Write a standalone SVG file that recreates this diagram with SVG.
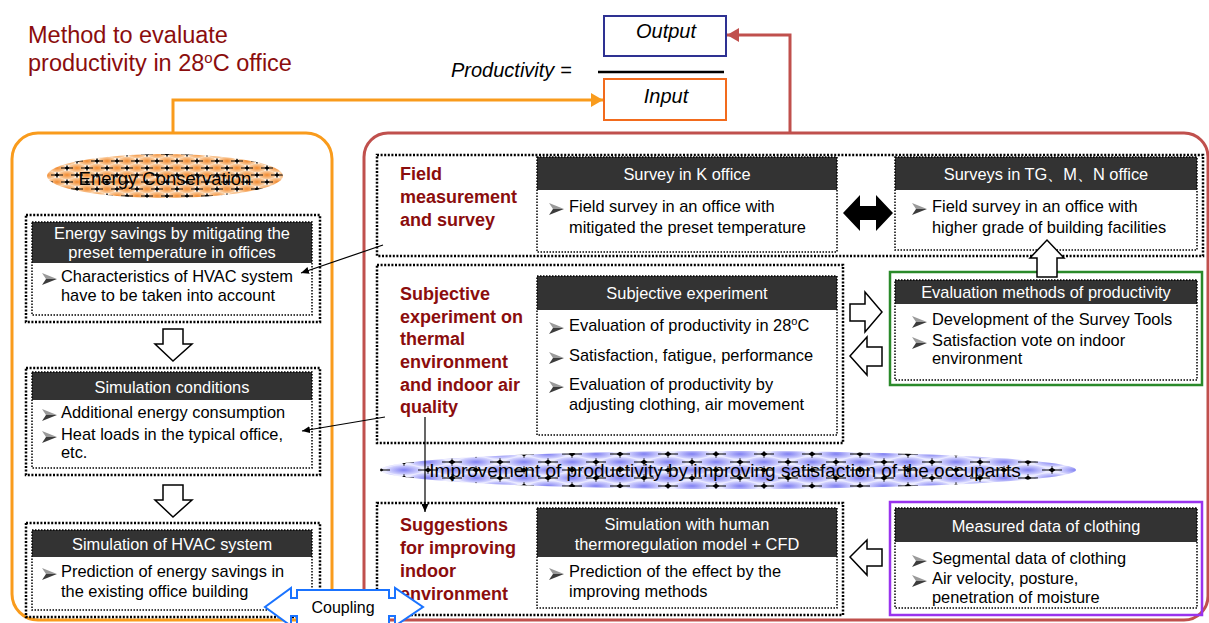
<svg xmlns="http://www.w3.org/2000/svg" xmlns:xlink="http://www.w3.org/1999/xlink" width="1209" height="623" viewBox="0 0 1209 623">
<style>
.hdr{fill:#333}
.dot-o{fill:none;stroke:#000;stroke-width:2.5;stroke-dasharray:2 1.6}
.dot-i{fill:none;stroke:#000;stroke-width:1.5;stroke-dasharray:1.5 1.5}
.ht{font-family:"Liberation Sans",Arial,sans-serif;font-size:16.4px;fill:#fff;text-anchor:middle}
.bt{font-family:"Liberation Sans",Arial,sans-serif;font-size:16.4px;fill:#000}
.lbl{font-family:"Liberation Sans",Arial,sans-serif;font-size:18px;font-weight:bold;fill:#8b0d0d}
.ttl{font-family:"Liberation Sans",Arial,sans-serif;font-size:23.5px;fill:#8b0d0d}
.it{font-family:"Liberation Sans",Arial,sans-serif;font-size:20px;font-style:italic;fill:#000}
.ell{font-family:"Liberation Sans",Arial,sans-serif;fill:#000;text-anchor:middle}
.hol{fill:#fff;stroke:#000;stroke-width:1.5}
.thin{fill:none;stroke:#000;stroke-width:1.2}
</style>
<defs>
<symbol id="blt" viewBox="0 0 15 12"><path d="M0,0 L15,6 L4,6 Z" fill="#9a9a9a"/><path d="M4,6 L15,6 L0,12 Z" fill="#3c3c3c"/></symbol>
<radialGradient id="gO"><stop offset="0" stop-color="#f28a2e"/><stop offset="1" stop-color="#fbd6b0"/></radialGradient>
<radialGradient id="gB"><stop offset="0" stop-color="#8080f2"/><stop offset="1" stop-color="#dcdcff"/></radialGradient>
<g id="starS"><path d="M-6,0 H6" stroke="#000" stroke-width="1"/><path d="M0,-3 V3" stroke="#000" stroke-width="0.7"/><path d="M-2.5,0 L0,-2 L2.5,0 L0,2 Z" fill="#000"/></g>
<g id="starL"><path d="M-10,0 H10" stroke="#000" stroke-width="1"/><path d="M0,-4 V4" stroke="#000" stroke-width="0.7"/><path d="M-3.5,0 L0,-2.5 L3.5,0 L0,2.5 Z" fill="#000"/></g>
<pattern id="pO" width="20" height="14" patternUnits="userSpaceOnUse" x="47" y="154">
<rect width="20" height="14" fill="#fff"/>
<ellipse cx="10" cy="0" rx="9" ry="4.5" fill="url(#gO)"/><ellipse cx="0" cy="7" rx="9" ry="4.5" fill="url(#gO)"/><ellipse cx="20" cy="7" rx="9" ry="4.5" fill="url(#gO)"/><ellipse cx="10" cy="14" rx="9" ry="4.5" fill="url(#gO)"/>
<use href="#starS" x="0" y="0"/><use href="#starS" x="20" y="0"/><use href="#starS" x="10" y="7"/><use href="#starS" x="0" y="14"/><use href="#starS" x="20" y="14"/>
</pattern>
<pattern id="pB" width="48" height="16" patternUnits="userSpaceOnUse" x="380" y="454">
<rect width="48" height="16" fill="#ececff"/>
<ellipse cx="24" cy="0" rx="18" ry="5" fill="url(#gB)"/><ellipse cx="0" cy="8" rx="18" ry="5" fill="url(#gB)"/><ellipse cx="48" cy="8" rx="18" ry="5" fill="url(#gB)"/><ellipse cx="24" cy="16" rx="18" ry="5" fill="url(#gB)"/>
<use href="#starL" x="0" y="0"/><use href="#starL" x="48" y="0"/><use href="#starL" x="24" y="8"/><use href="#starL" x="0" y="16"/><use href="#starL" x="48" y="16"/>
</pattern>
<marker id="mO" markerWidth="12" markerHeight="14" refX="12" refY="7" orient="auto" markerUnits="userSpaceOnUse"><path d="M0,0 L12,7 L0,14 Z" fill="#f99b1c"/></marker>
<marker id="mR" markerWidth="12" markerHeight="14" refX="12" refY="7" orient="auto" markerUnits="userSpaceOnUse"><path d="M0,0 L12,7 L0,14 Z" fill="#c0504d"/></marker>
<marker id="mK" markerWidth="8" markerHeight="7" refX="8" refY="3.5" orient="auto" markerUnits="userSpaceOnUse"><path d="M0,0 L8,3.5 L0,7 Z" fill="#000"/></marker>
</defs>
<rect width="1209" height="623" fill="#fff"/>

<g id="title">
<text class="ttl" x="28" y="43">Method to evaluate</text>
<text class="ttl" x="28" y="71">productivity in 28<tspan font-size="15" dy="-8">o</tspan><tspan dy="8">C office</tspan></text>
</g>

<g id="formula">
<text class="it" x="451" y="77">Productivity =</text>
<line x1="598" y1="72" x2="724" y2="72" stroke="#000" stroke-width="2.5"/>
</g>
<g id="n-output">
<rect x="604" y="16" width="122" height="40" fill="#fff" stroke="#2e3192" stroke-width="2"/>
<text class="it" x="666" y="38" text-anchor="middle">Output</text>
</g>
<g id="n-input">
<rect x="604" y="79" width="122" height="41" fill="#fff" stroke="#f26b1d" stroke-width="2"/>
<text class="it" x="666" y="103" text-anchor="middle">Input</text>
</g>

<g id="n-left-panel">
<rect x="12" y="133" width="320" height="487" rx="26" fill="none" stroke="#f99b1c" stroke-width="3"/>
</g>
<g id="n-right-panel">
<rect x="364" y="133" width="844" height="487" rx="24" fill="none" stroke="#c0504d" stroke-width="3"/>
</g>

<g id="n-energy-conservation">
<ellipse cx="165" cy="176" rx="118" ry="22" fill="url(#pO)"/>
<text class="ell" x="165" y="185" font-size="18.5">Energy Conservation</text>
</g>

<g id="n-energy-savings">
<rect class="dot-o" x="26" y="215" width="294" height="107"/>
<rect class="hdr" x="32" y="222" width="280" height="41"/>
<rect class="dot-i" x="32" y="222" width="280" height="93"/>
<text class="ht" x="172" y="239">Energy savings by mitigating the</text>
<text class="ht" x="172" y="258">preset temperature in offices</text>
<use href="#blt" x="42" y="273" width="15" height="12"/>
<text class="bt" x="61" y="282">Characteristics of HVAC system</text>
<text class="bt" x="61" y="301">have to be taken into account</text>
</g>

<g id="n-sim-conditions">
<rect class="dot-o" x="26" y="368" width="294" height="107"/>
<rect class="hdr" x="32" y="372" width="280" height="28"/>
<rect class="dot-i" x="32" y="372" width="280" height="96"/>
<text class="ht" x="172" y="393">Simulation conditions</text>
<use href="#blt" x="42" y="409" width="15" height="12"/>
<text class="bt" x="61" y="418">Additional energy consumption</text>
<use href="#blt" x="42" y="431" width="15" height="12"/>
<text class="bt" x="61" y="440">Heat loads in the typical office,</text>
<text class="bt" x="61" y="458">etc.</text>
</g>

<g id="n-sim-hvac">
<rect class="dot-o" x="26" y="523" width="294" height="94"/>
<rect class="hdr" x="32" y="530" width="280" height="27"/>
<rect class="dot-i" x="32" y="530" width="280" height="80"/>
<text class="ht" x="172" y="550">Simulation of HVAC system</text>
<use href="#blt" x="42" y="568" width="15" height="12"/>
<text class="bt" x="61" y="577">Prediction of energy savings in</text>
<text class="bt" x="61" y="597">the existing office building</text>
</g>

<g id="n-field">
<rect class="dot-o" x="377" y="155" width="826" height="101"/>
<text class="lbl" x="400" y="180">Field</text>
<text class="lbl" x="400" y="203">measurement</text>
<text class="lbl" x="400" y="226">and survey</text>
</g>
<g id="n-k-office">
<rect class="hdr" x="537" y="157" width="300" height="33"/>
<rect class="dot-i" x="537" y="157" width="300" height="95"/>
<text class="ht" x="687" y="180">Survey in K office</text>
<use href="#blt" x="549" y="203" width="15" height="12"/>
<text class="bt" x="569" y="212">Field survey in an office with</text>
<text class="bt" x="569" y="233">mitigated the preset temperature</text>
</g>
<g id="n-tg-office">
<rect class="hdr" x="895" y="157" width="302" height="33"/>
<rect class="dot-i" x="895" y="157" width="302" height="93"/>
<text class="ht" x="1046" y="180">Surveys in TG、M、N office</text>
<use href="#blt" x="912" y="203" width="15" height="12"/>
<text class="bt" x="932" y="212">Field survey in an office with</text>
<text class="bt" x="932" y="233">higher grade of building facilities</text>
</g>

<g id="n-subjective">
<rect class="dot-o" x="377" y="265" width="466" height="178"/>
<text class="lbl" x="400" y="300">Subjective</text>
<text class="lbl" x="400" y="323">experiment on</text>
<text class="lbl" x="400" y="345">thermal</text>
<text class="lbl" x="400" y="368">environment</text>
<text class="lbl" x="400" y="391">and indoor air</text>
<text class="lbl" x="400" y="413">quality</text>
</g>
<g id="n-subj-exp">
<rect class="hdr" x="537" y="276" width="300" height="34"/>
<rect class="dot-i" x="537" y="276" width="300" height="159"/>
<text class="ht" x="687" y="299">Subjective experiment</text>
<use href="#blt" x="549" y="322" width="15" height="12"/>
<text class="bt" x="569" y="331">Evaluation of productivity in 28<tspan font-size="11" dy="-6">o</tspan><tspan dy="6">C</tspan></text>
<use href="#blt" x="549" y="352" width="15" height="12"/>
<text class="bt" x="569" y="361">Satisfaction, fatigue, performance</text>
<use href="#blt" x="549" y="381" width="15" height="12"/>
<text class="bt" x="569" y="390">Evaluation of productivity by</text>
<text class="bt" x="569" y="410">adjusting clothing, air movement</text>
</g>

<g id="n-eval-methods">
<rect x="890" y="272" width="312" height="113" fill="none" stroke="#2a8a2a" stroke-width="2.5"/>
<rect class="hdr" x="895" y="280" width="302" height="24"/>
<rect class="dot-i" x="895" y="280" width="302" height="100"/>
<text class="ht" x="1046" y="298">Evaluation methods of productivity</text>
<use href="#blt" x="912" y="316" width="15" height="12"/>
<text class="bt" x="932" y="325">Development of the Survey Tools</text>
<use href="#blt" x="912" y="337" width="15" height="12"/>
<text class="bt" x="932" y="346">Satisfaction vote on indoor</text>
<text class="bt" x="932" y="364">environment</text>
</g>

<g id="n-improvement">
<ellipse cx="728" cy="470" rx="348" ry="19" fill="url(#pB)"/>
<text class="ell" x="725" y="477" font-size="19">Improvement of productivity by improving satisfaction of the occupants</text>
</g>

<g id="n-suggestions">
<rect class="dot-o" x="377" y="503" width="466" height="112"/>
<text class="lbl" x="400" y="531">Suggestions</text>
<text class="lbl" x="400" y="554">for improving</text>
<text class="lbl" x="400" y="577">indoor</text>
<text class="lbl" x="400" y="600">environment</text>
</g>
<g id="n-sim-human">
<rect class="hdr" x="537" y="508" width="300" height="49"/>
<rect class="dot-i" x="537" y="508" width="300" height="100"/>
<text class="ht" x="687" y="530">Simulation with human</text>
<text class="ht" x="687" y="550">thermoregulation model + CFD</text>
<use href="#blt" x="549" y="568" width="15" height="12"/>
<text class="bt" x="569" y="577">Prediction of the effect by the</text>
<text class="bt" x="569" y="597">improving methods</text>
</g>

<g id="n-clothing">
<rect x="890" y="502" width="312" height="113" fill="none" stroke="#9933ee" stroke-width="2.5"/>
<rect class="hdr" x="895" y="508" width="302" height="34"/>
<rect class="dot-i" x="895" y="508" width="302" height="100"/>
<text class="ht" x="1046" y="532">Measured data of clothing</text>
<use href="#blt" x="912" y="555" width="15" height="12"/>
<text class="bt" x="932" y="564">Segmental data of clothing</text>
<use href="#blt" x="912" y="575" width="15" height="12"/>
<text class="bt" x="932" y="584">Air velocity, posture,</text>
<text class="bt" x="932" y="603">penetration of moisture</text>
</g>

<g id="connectors">
<path d="M173,132 V100 H603" fill="none" stroke="#f99b1c" stroke-width="3" marker-end="url(#mO)"/>
<path d="M790,132 V35 H727" fill="none" stroke="#c0504d" stroke-width="3" marker-end="url(#mR)"/>
<path class="thin" d="M383,245 L301,273" marker-end="url(#mK)"/>
<path class="thin" d="M385,417 L302,431" marker-end="url(#mK)"/>
<path class="thin" d="M425,417 V512" marker-end="url(#mK)"/>
<path class="hol" d="M163,329 H183 V344 H192 L173,361 L155,344 H163 Z"/>
<path class="hol" d="M163,485 H183 V500 H192 L173,517 L155,500 H163 Z"/>
<path d="M843,213 L860,195 V206 H876 V195 L893,213 L876,231 V220 H860 V231 Z" fill="#000"/>
<path class="hol" d="M1037,277 V258 H1030 L1047,240 L1064,258 H1057 V277 Z"/>
<path class="hol" d="M850,304 H865 V292 L882,312 L865,332 V321 H850 Z"/>
<path class="hol" d="M882,347 H867 V337 L850,356 L867,375 V366 H882 Z"/>
<path class="hol" d="M882,549 H867 V540 L850,557 L867,575 V566 H882 Z"/>
</g>

<g id="n-coupling">
<path d="M297,590 H389 V598 H395 V588 L423,607 L395,626 V616 H389 V630 H297 V616 H291 V626 L265,607 L291,588 V598 H297 Z" fill="#fff" stroke="#1a73ff" stroke-width="2"/>
<text x="343" y="613" font-family="'Liberation Sans',Arial,sans-serif" font-size="16" fill="#000" text-anchor="middle">Coupling</text>
</g>
</svg>
